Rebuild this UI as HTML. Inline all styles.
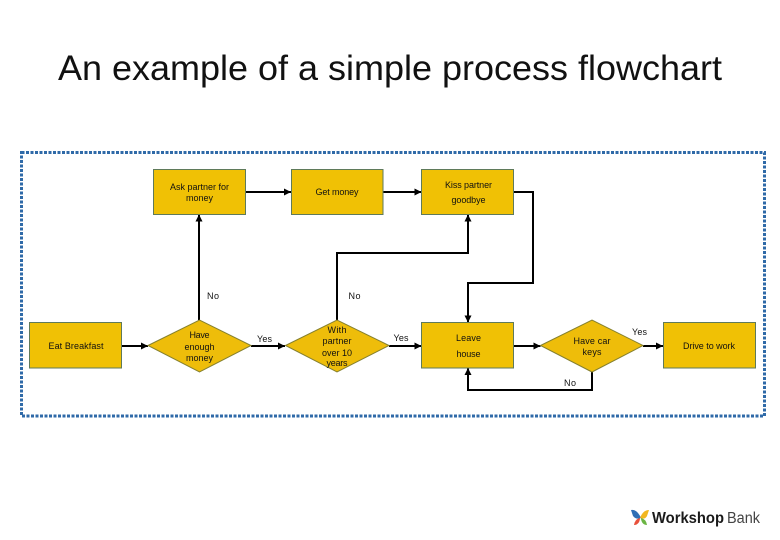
<!DOCTYPE html>
<html><head><meta charset="utf-8"><style>
html,body{margin:0;padding:0;background:#fff;width:780px;height:540px;overflow:hidden}
svg{display:block}
text{font-family:"Liberation Sans",sans-serif}
.t{font-size:9px;fill:#111;text-anchor:middle}
.s{fill:#f0c105;stroke:#5f7a5a;stroke-width:1}
.d{fill:#eebd0a;stroke:#85802e;stroke-width:1}
.c{fill:none;stroke:#000;stroke-width:2}
</style></head><body>
<svg width="780" height="540" viewBox="0 0 780 540" xmlns="http://www.w3.org/2000/svg">
<defs><marker id="a" markerUnits="userSpaceOnUse" markerWidth="7" markerHeight="8" refX="7" refY="4" orient="auto"><path d="M0 0.500L7 4L0 7.500z" fill="#000"/></marker></defs>
<text x="58" y="80" font-size="35" fill="#111" textLength="664" lengthAdjust="spacingAndGlyphs">An example of a simple process flowchart</text>
<rect x="21.500" y="152.500" width="743" height="263.500" fill="none" stroke="#2f6aa8" stroke-width="3" stroke-dasharray="3 1.500"/>

<path class="c" marker-end="url(#a)" d="M245.500 192H291"/>
<path class="c" marker-end="url(#a)" d="M383 192H421.500"/>
<path class="c" marker-end="url(#a)" d="M199 320V214.500"/>
<path class="c" marker-end="url(#a)" d="M337 320V253H468V214.500"/>
<path class="c" marker-end="url(#a)" d="M513.500 192H533V283H468V322.500"/>
<path class="c" marker-end="url(#a)" d="M121.500 346H148"/>
<path class="c" marker-end="url(#a)" d="M251 346H285"/>
<path class="c" marker-end="url(#a)" d="M389 346H421.500"/>
<path class="c" marker-end="url(#a)" d="M513.500 346H540.500"/>
<path class="c" marker-end="url(#a)" d="M643 346H663"/>
<path class="c" marker-end="url(#a)" d="M592 372V390H468V368"/>

<rect class="s" x="153.500" y="169.500" width="92" height="45"/>
<rect class="s" x="291.500" y="169.500" width="91.500" height="45"/>
<rect class="s" x="421.500" y="169.500" width="92" height="45"/>
<rect class="s" x="29.500" y="322.500" width="92" height="45.500"/>
<rect class="s" x="421.500" y="322.500" width="92" height="45.500"/>
<rect class="s" x="663.500" y="322.500" width="92" height="45.500"/>
<polygon class="d" points="148,345.500 199.500,320 251,345.500 199.500,372"/>
<polygon class="d" points="285.500,345.500 337,320 389,345.500 337,372"/>
<polygon class="d" points="540.500,345.500 592,320 643,345.500 592,372"/>

<text class="t" x="199.500" y="190" textLength="59">Ask partner for</text>
<text class="t" x="199.500" y="201" textLength="27">money</text>
<text class="t" x="337" y="195" textLength="43">Get money</text>
<text class="t" x="468.500" y="188" textLength="47">Kiss partner</text>
<text class="t" x="468.500" y="203" textLength="34">goodbye</text>
<text class="t" x="76" y="349" textLength="55">Eat Breakfast</text>
<text class="t" x="199.500" y="338" textLength="20">Have</text>
<text class="t" x="199.500" y="350" textLength="30">enough</text>
<text class="t" x="199.500" y="361" textLength="27">money</text>
<text class="t" x="337" y="333" textLength="19">With</text>
<text class="t" x="337" y="344" textLength="29">partner</text>
<text class="t" x="337" y="356" textLength="30">over 10</text>
<text class="t" x="337" y="366" textLength="21">years</text>
<text class="t" x="468.500" y="341" textLength="25">Leave</text>
<text class="t" x="468.500" y="357" textLength="24">house</text>
<text class="t" x="592" y="344" textLength="37">Have car</text>
<text class="t" x="592" y="355" textLength="19">keys</text>
<text class="t" x="709" y="349" textLength="52">Drive to work</text>
<text class="t" x="213" y="299" textLength="12">No</text>
<text class="t" x="354.500" y="299" textLength="12">No</text>
<text class="t" x="264.500" y="342" textLength="15">Yes</text>
<text class="t" x="401" y="341" textLength="15">Yes</text>
<text class="t" x="639.500" y="335" textLength="15">Yes</text>
<text class="t" x="570" y="386" textLength="12">No</text>

<path d="M631 510Q637 509 641 518Q636 520 633 516Z" fill="#2f6fb5"/>
<path d="M649 510Q643 510 640 518Q645 520 647 516Z" fill="#f2b71f"/>
<path d="M640 518Q635 519 634 525Q639 525 640 519Z" fill="#e8503a"/>
<path d="M641 518Q646 519 647 525Q642 525 641 519Z" fill="#6bb544"/>
<text x="652" y="523" font-size="15.500" font-weight="700" fill="#1a1a1a" textLength="72" lengthAdjust="spacingAndGlyphs">Workshop</text>
<text x="727" y="523" font-size="15.500" fill="#444" textLength="33" lengthAdjust="spacingAndGlyphs">Bank</text>
</svg>
</body></html>
